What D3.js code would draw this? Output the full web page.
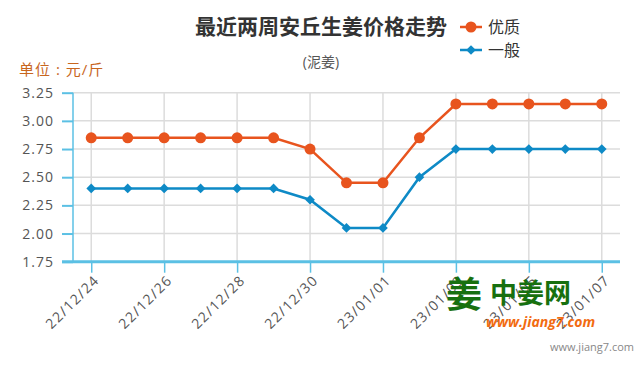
<!DOCTYPE html>
<html><head><meta charset="utf-8">
<script src="https://cdn.jsdelivr.net/npm/d3@7"></script>
<style>body{margin:0;background:#fff}svg{display:block}</style>
</head><body>
<svg id="c" width="641" height="370"></svg>
<script>
const dates = ["22/12/24","22/12/25","22/12/26","22/12/27","22/12/28","22/12/29","22/12/30","22/12/31","23/01/01","23/01/02","23/01/03","23/01/04","23/01/05","23/01/06","23/01/07"];
const tickDates = ["22/12/24","22/12/26","22/12/28","22/12/30","23/01/01","23/01/03","23/01/05","23/01/07"];
const youzhi = [2.85,2.85,2.85,2.85,2.85,2.85,2.75,2.45,2.45,2.85,3.15,3.15,3.15,3.15,3.15];
const yiban  = [2.40,2.40,2.40,2.40,2.40,2.40,2.30,2.05,2.05,2.50,2.75,2.75,2.75,2.75,2.75];
const yTicks = [1.75,2.00,2.25,2.50,2.75,3.00,3.25];
const seriesNames = ["优质","一般"];
const colors = ["#e8541e","#0e8ac6"];

const svg = d3.select("#c");
const font = "'Open Sans','Noto Sans CJK SC',sans-serif";
const L = 73, R = 620, T = 92.7, B = 261.7;
const x = d3.scalePoint().domain(dates).range([L, R]).padding(0.5);
const y = d3.scaleLinear().domain([1.75, 3.25]).range([B, T]);

// grid
svg.append("g").selectAll("line").data(yTicks.slice(1)).join("line")
  .attr("x1", L).attr("x2", R).attr("y1", d=>y(d)).attr("y2", d=>y(d))
  .attr("stroke", "#dcdcdc").attr("stroke-width", 1.5);
svg.append("g").selectAll("line").data(tickDates).join("line")
  .attr("x1", d=>x(d)).attr("x2", d=>x(d)).attr("y1", T).attr("y2", B)
  .attr("stroke", "#dcdcdc").attr("stroke-width", 1.5);

// y axis
const ya = svg.append("g").attr("transform", `translate(${L},0)`)
  .call(d3.axisLeft(y).tickValues(yTicks).tickFormat(d3.format(".2f")).tickSize(11).tickPadding(8));
ya.select(".domain").attr("stroke", "#5bc0e4").attr("stroke-width", 1.5).attr("d", `M0,${T}V${B}`);
ya.selectAll(".tick line").attr("stroke", "#5bc0e4").attr("stroke-width", 2);
ya.selectAll(".tick text").attr("fill", "#555").style("font-family", font).style("font-size", "14px").style("letter-spacing","1px");

// x axis
const xa = svg.append("g").attr("transform", `translate(0,${B})`)
  .call(d3.axisBottom(x).tickValues(tickDates).tickSize(11).tickPadding(4));
xa.select(".domain").attr("stroke", "#5bc0e4").attr("stroke-width", 3).attr("d", `M62,0H${R}`);
xa.selectAll(".tick line").attr("stroke", "#5bc0e4").attr("stroke-width", 1.5);
xa.selectAll(".tick text").attr("fill", "#555").style("font-family", font).style("font-size", "14px").style("letter-spacing","1.3px")
  .attr("text-anchor", "end").attr("dy", "0.35em").attr("transform", "translate(5,16) rotate(-45)").attr("y", 0).attr("x", 0);

// lines
const line = d3.line().x((d,i)=>x(dates[i])).y(d=>y(d));
[youzhi, yiban].forEach((vals, k) => {
  svg.append("path").datum(vals).attr("d", line).attr("fill", "none")
    .attr("stroke", colors[k]).attr("stroke-width", 2.5);
});
svg.append("g").selectAll("circle").data(youzhi).join("circle")
  .attr("cx", (d,i)=>x(dates[i])).attr("cy", d=>y(d)).attr("r", 5.5).attr("fill", colors[0]);
const diamond = d3.symbol().type(d3.symbolDiamond2).size(60);
svg.append("g").selectAll("path").data(yiban).join("path")
  .attr("d", diamond).attr("transform", (d,i)=>`translate(${x(dates[i])},${y(d)})`).attr("fill", colors[1]);

// title
svg.append("text").attr("x", 321).attr("y", 34).attr("text-anchor", "middle")
  .style("font-family", font).style("font-size", "21px").style("font-weight", "bold").attr("fill", "#333")
  .text("最近两周安丘生姜价格走势");
svg.append("text").attr("x", 321).attr("y", 67).attr("text-anchor", "middle")
  .style("font-family", font).style("font-size", "14px").attr("fill", "#555").text("(泥姜)");

// legend
seriesNames.forEach((n, k) => {
  const ly = 27 + k * 23;
  svg.append("line").attr("x1", 460).attr("x2", 482).attr("y1", ly).attr("y2", ly)
    .attr("stroke", colors[k]).attr("stroke-width", 2.5);
  if (k === 0) svg.append("circle").attr("cx", 471).attr("cy", ly).attr("r", 5.5).attr("fill", colors[k]);
  else svg.append("path").attr("d", diamond).attr("transform", `translate(471,${ly})`).attr("fill", colors[k]);
  svg.append("text").attr("x", 488).attr("y", ly + 6).style("font-family", font).style("font-size", "16px")
    .attr("fill", "#333").text(n);
});

// unit
svg.append("text").attr("x", 19).attr("y", 75).style("font-family", font).style("font-size", "15px")
  .style("letter-spacing", "1px").attr("fill", "#c8661e").text("单位 : 元/斤");

// watermark
svg.append("text").attr("x", 446).attr("y", 308).style("font-family", font).style("font-size", "36px")
  .style("font-weight", "bold").attr("fill", "#17700f").text("姜");
svg.append("text").attr("x", 490).attr("y", 303).style("font-family", font).style("font-size", "27px")
  .style("font-weight", "bold").attr("fill", "#17700f").text("中姜网");
svg.append("text").attr("x", 486).attr("y", 327).style("font-family", font).style("font-size", "14px")
  .style("font-weight", "bold").style("font-style", "italic").attr("fill", "#f26b10").text("www.jiang7.com");
svg.append("text").attr("x", 634).attr("y", 351).attr("text-anchor", "end").style("font-family", font)
  .style("font-size", "11px").attr("fill", "#888").text("www.jiang7.com");
</script>
</body></html>
